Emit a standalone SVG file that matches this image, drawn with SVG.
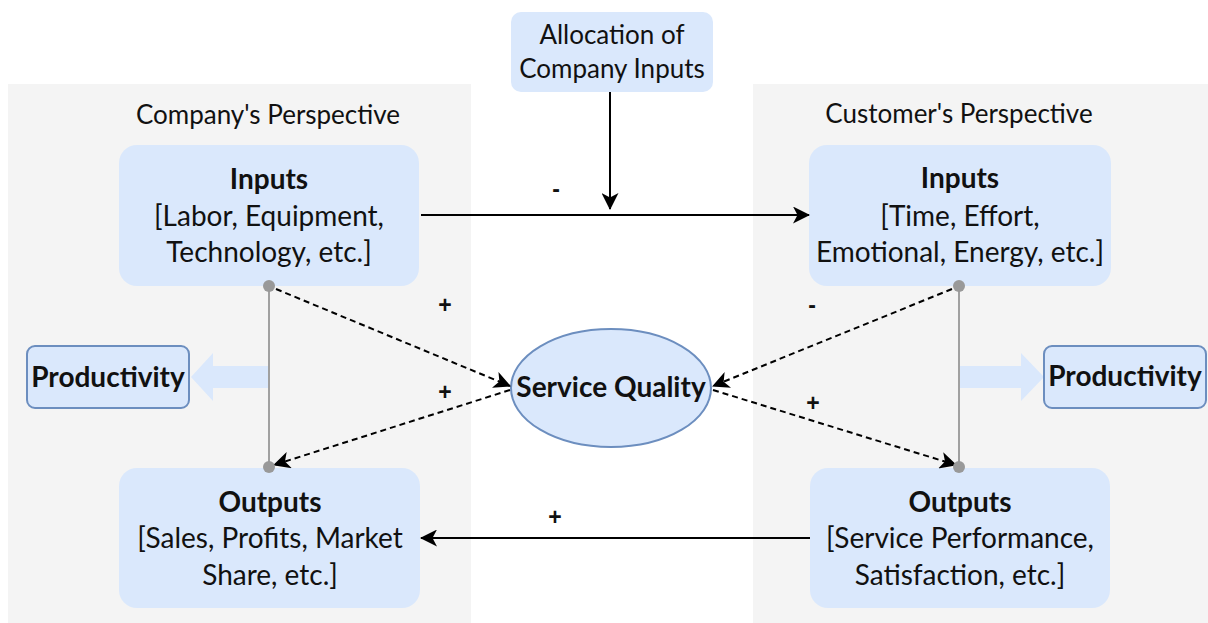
<svg xmlns="http://www.w3.org/2000/svg" width="1208" height="623" viewBox="0 0 1208 623">
<defs>
<style>
.panel{fill:#f4f4f4}
.box{fill:#dae8fc}
.sbox{fill:#dae8fc;stroke:#6c8ebf;stroke-width:2}
.t{font-family:Lato,"Open Sans",sans-serif;font-size:26px;fill:#111;text-anchor:middle}
.m{font-size:28px}
.b{font-weight:bold}
.lbl{font-family:"Liberation Sans",Arial,sans-serif;font-size:23px;font-weight:bold;fill:#111;text-anchor:middle}
.solid{stroke:#000;stroke-width:2;fill:none;marker-end:url(#ah)}
.dash{stroke:#000;stroke-width:2;stroke-dasharray:6 4;fill:none;marker-end:url(#ah)}
.gray{stroke:#a0a0a0;stroke-width:2;fill:none}
.dot{fill:#999}
.blk{fill:#dae8fc}
</style>
<marker id="ah" viewBox="0 0 17 17" refX="16" refY="8.5" markerWidth="17" markerHeight="17" markerUnits="userSpaceOnUse" orient="auto">
<path d="M0,0 L17,8.5 L0,17 L4.5,8.5 z" fill="#000"/>
</marker>
</defs>
<g id="panels">
<rect class="panel" x="8" y="84" width="463" height="539"/>
<rect class="panel" x="753" y="84" width="455" height="539"/>
<text class="t" x="268" y="124">Company's Perspective</text>
<text class="t" x="959" y="123">Customer's Perspective</text>
</g>
<g id="productivity-arrows">
<path class="blk" d="M269,366 H213 V353 L191,377 L213,401 V388 H269 z"/>
<path class="blk" d="M959,366 H1021 V353 L1044,377 L1021,401 V388 H959 z"/>
</g>
<g id="allocation">
<rect class="box" x="511" y="12" width="202" height="80" rx="10"/>
<text class="t" x="612" y="44">Allocation of</text>
<text class="t" x="612" y="78">Company Inputs</text>
</g>
<g id="company-inputs">
<rect class="box" x="119" y="145" width="300" height="141" rx="18"/>
<text class="t m b" x="269" y="189">Inputs</text>
<text class="t m" x="269" y="226">[Labor, Equipment,</text>
<text class="t m" x="269" y="262">Technology, etc.]</text>
</g>
<g id="customer-inputs">
<rect class="box" x="809" y="145" width="302" height="141" rx="18"/>
<text class="t m b" x="960" y="188">Inputs</text>
<text class="t m" x="960" y="226">[Time, Effort,</text>
<text class="t m" x="960" y="262">Emotional, Energy, etc.]</text>
</g>
<g id="company-outputs">
<rect class="box" x="119" y="468" width="301" height="140" rx="18"/>
<text class="t m b" x="270" y="512">Outputs</text>
<text class="t m" x="270" y="548">[Sales, Profits, Market</text>
<text class="t m" x="270" y="585">Share, etc.]</text>
</g>
<g id="customer-outputs">
<rect class="box" x="810" y="468" width="300" height="140" rx="18"/>
<text class="t m b" x="960" y="512">Outputs</text>
<text class="t m" x="960" y="548">[Service Performance,</text>
<text class="t m" x="960" y="585">Satisfaction, etc.]</text>
</g>
<g id="productivity-left">
<rect class="sbox" x="27" y="346" width="162" height="62" rx="8"/>
<text class="t m b" x="108" y="387">Productivity</text>
</g>
<g id="productivity-right">
<rect class="sbox" x="1044" y="346" width="162" height="62" rx="8"/>
<text class="t m b" x="1125" y="386">Productivity</text>
</g>
<g id="service-quality">
<ellipse class="sbox" cx="611" cy="388" rx="100" ry="59"/>
<text class="t m b" x="611" y="397">Service Quality</text>
</g>
<g id="connectors">
<path class="gray" d="M269,286 V467"/>
<path class="gray" d="M959,286 V467"/>
<path class="solid" d="M610,92 V209"/>
<path class="solid" d="M421,215 H809"/>
<path class="solid" d="M810,538 H421"/>
<path class="dash" d="M276,289 L510,386"/>
<path class="dash" d="M510,390 L274,465"/>
<path class="dash" d="M952,289 L713,386"/>
<path class="dash" d="M713,390 L956,465"/>
<circle class="dot" cx="269" cy="286" r="6"/>
<circle class="dot" cx="269" cy="467" r="6"/>
<circle class="dot" cx="959" cy="286" r="6"/>
<circle class="dot" cx="959" cy="467" r="6"/>
<text class="lbl" x="556" y="197">-</text>
<text class="lbl" x="445" y="313">+</text>
<text class="lbl" x="445" y="400">+</text>
<text class="lbl" x="812" y="313">-</text>
<text class="lbl" x="813" y="411">+</text>
<text class="lbl" x="555" y="525">+</text>
</g>
</svg>
